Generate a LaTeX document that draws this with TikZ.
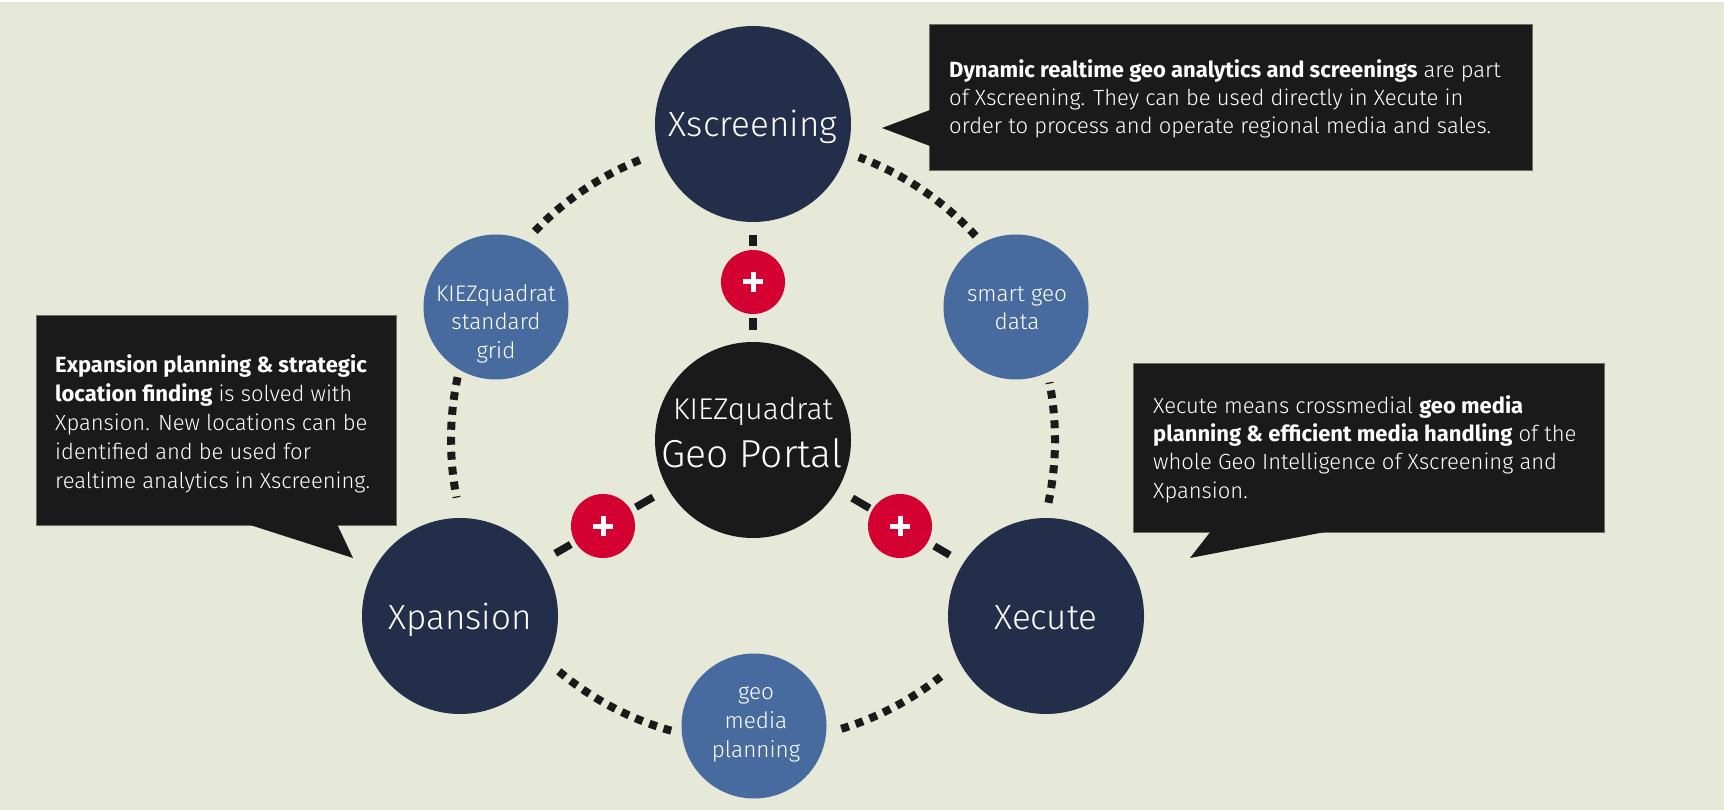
\documentclass[tikz,border=0pt]{standalone}
\usepackage{fontspec}
\setmainfont{Fira Sans}[UprightFont={* Light},BoldFont={* Bold}]
\usetikzlibrary{calc}
\definecolor{bg}{RGB}{230,232,216}
\definecolor{navy}{RGB}{34,46,74}
\definecolor{steel}{RGB}{72,107,159}
\definecolor{ink}{RGB}{26,26,26}
\definecolor{plusred}{RGB}{213,0,50}
\definecolor{boxedge}{RGB}{110,110,100}
\begin{document}
\begin{tikzpicture}[x=1pt,y=-1pt,
  big/.style={circle,fill=navy,minimum size=196pt,inner sep=0},
  small/.style={circle,fill=steel,minimum size=145pt,inner sep=0},
  plusnode/.style={circle,fill=plusred,minimum size=64pt,inner sep=0},
  hub/.style={circle,fill=ink,minimum size=196pt,inner sep=0},
  ring/.style={draw=ink,line width=8pt,dash pattern=on 8pt off 7pt},
  link/.style={draw=ink,line width=7.5pt},
  plusbar/.style={draw=white,line width=5pt},
  infobox/.style={fill=ink,draw=boxedge,line width=0.8pt},
  pointer/.style={fill=ink},
  boxtext/.style={text=white,anchor=base west,align=left,inner sep=0},
  ctext/.style={text=white,anchor=base,align=center,inner sep=0},
]
\fill[white] (0,0) rectangle (1724,810);
\fill[bg] (0,2) rectangle (1724,810);
\useasboundingbox (0,0) rectangle (1724,810);

% dotted ring arcs
\coordinate (rc) at (753,440);
\foreach \a/\b in {112/137,168/191,230/255,287/309,348/371,42.5/69.5}{
  \draw[ring] ($(rc)+(-\a:302)$) arc[start angle=-\a,end angle=-\b,radius=302];
}

% circles
\node[big] (xscr) at (753,124) {};
\node[hub] (hubn) at (753,440) {};
\node[big] (xpan) at (460,616) {};
\node[big] (xecu) at (1046,616) {};
\node[small] (grid) at (496,307) {};
\node[small] (smart) at (1016,307) {};
\node[small] (gmp) at (754,726) {};
\node[plusnode] (p1) at (753,282) {};
\node[plusnode] (p2) at (603,526) {};
\node[plusnode] (p3) at (900,526) {};

% links
\draw[link] ($(hubn)!110pt!(p1)$) -- ($(hubn)!122pt!(p1)$);
\draw[link] ($(hubn)!194pt!(p1)$) -- ($(hubn)!205pt!(p1)$);
\draw[link] ($(hubn)!115pt!(p2)$) -- ($(hubn)!135pt!(p2)$);
\draw[link] ($(hubn)!210pt!(p2)$) -- ($(hubn)!228pt!(p2)$);
\draw[link] ($(hubn)!115pt!(p3)$) -- ($(hubn)!135pt!(p3)$);
\draw[link] ($(hubn)!210pt!(p3)$) -- ($(hubn)!228pt!(p3)$);

% plus signs
\foreach \p in {p1,p2,p3}{
  \draw[plusbar] ($(\p)+(-10,0)$) -- ($(\p)+(10,0)$);
  \draw[plusbar] ($(\p)+(0,-10)$) -- ($(\p)+(0,10)$);
}

% circle texts (anchor = baseline of last line)
\node[ctext,font=\fontsize{35}{40}\selectfont] (txscr) at (753,137) {Xscreening};
\node[ctext,font=\fontsize{35}{40}\selectfont] (txpan) at (460,629) {Xpansion};
\node[ctext,font=\fontsize{35}{40}\selectfont] (txecu) at (1046,629) {Xecute};
\node[ctext,font=\fontsize{30}{34}\selectfont] (thub1) at (753,419) {KIEZquadrat};
\node[ctext,font=\fontsize{39}{42}\selectfont] (thub2) at (752,467) {Geo Portal};
\node[ctext,font=\fontsize{22.5}{28.5}\selectfont] (tgrid) at (496,358) {KIEZquadrat\\standard\\grid};
\node[ctext,font=\fontsize{22.5}{28.5}\selectfont] (tsmart) at (1017,330) {smart geo\\data};
\node[ctext,font=\fontsize{22.5}{29}\selectfont] (tgmp) at (756,757) {geo\\media\\planning};

% info boxes
\path[infobox] (929,24) rectangle (1532,170);
\path[pointer] (930,110) -- (882,128) -- (930,146) -- cycle;
\path[infobox] (36,315) rectangle (396,525);
\path[pointer] (247,524) -- (353,558) -- (337,524) -- cycle;
\path[infobox] (1133,363) rectangle (1604,532);
\path[pointer] (1211,531) -- (1190,558) -- (1330,531) -- cycle;

\node[boxtext,font=\fontsize{22}{28}\selectfont] (btop) at (949,133.5) {\textbf{Dynamic realtime geo analytics and screenings} are part\\of Xscreening. They can be used directly in Xecute in\\order to process and operate regional media and sales.};
\node[boxtext,font=\fontsize{22}{29}\selectfont] (bleft) at (55,488) {\textbf{Expansion planning \& strategic}\\\textbf{location finding} is solved with\\Xpansion. New locations can be\\identified and be used for\\realtime analytics in Xscreening.};
\node[boxtext,font=\fontsize{22}{28.3}\selectfont] (bright) at (1153,498) {Xecute means crossmedial \textbf{geo media}\\\textbf{planning \& efficient media handling} of the\\whole Geo Intelligence of Xscreening and\\Xpansion.};
\end{tikzpicture}
\end{document}
